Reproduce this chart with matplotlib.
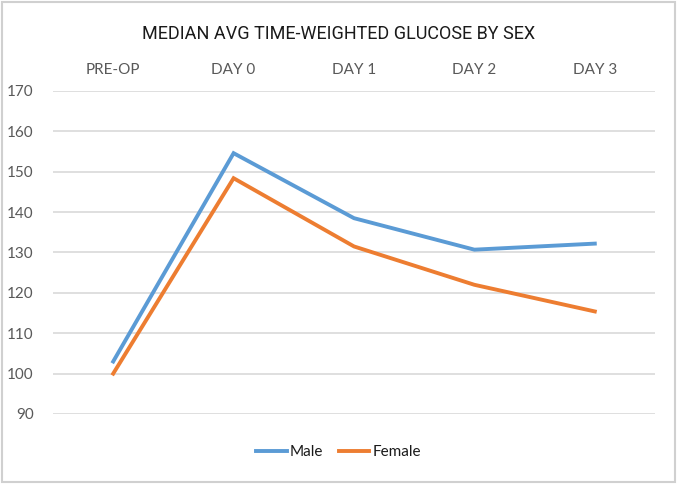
import matplotlib
matplotlib.use("Agg")
import matplotlib.pyplot as plt
from matplotlib.patches import Rectangle

# Data
days = ["PRE-OP", "DAY 0", "DAY 1", "DAY 2", "DAY 3"]
male = [103.0, 154.6, 138.5, 130.7, 132.2]
female = [100.0, 148.4, 131.5, 122.0, 115.4]
yticks = [90, 100, 110, 120, 130, 140, 150, 160, 170]

BLUE = "#5B9BD5"
ORANGE = "#ED7D31"
GREY = "#595959"

plt.rcParams["font.family"] = ["Lato", "DejaVu Sans"]

fig = plt.figure(figsize=(6.77, 4.84), dpi=100)
ax = fig.add_axes([53 / 677, 70 / 484, 602 / 677, 323 / 484])

x = range(len(days))
ax.plot(x, male, color=BLUE, lw=2.8, label="Male", solid_joinstyle="miter")
ax.plot(x, female, color=ORANGE, lw=2.8, label="Female", solid_joinstyle="miter")

ax.set_xlim(-0.5, len(days) - 0.5)
ax.set_ylim(90, 170)
ax.set_yticks(yticks)
ax.set_xticks(list(x))
ax.set_xticklabels(days)
ax.xaxis.tick_top()
ax.tick_params(axis="x", length=0, pad=10, labelsize=11, colors=GREY)
ax.tick_params(axis="y", length=0, pad=14, labelsize=11, colors=GREY)
ax.grid(axis="y", color="#D9D9D9", lw=1.2)
ax.set_axisbelow(True)
for s in ax.spines.values():
    s.set_visible(False)

fig.text(0.5, 1 - 34 / 484, "MEDIAN AVG TIME-WEIGHTED GLUCOSE BY SEX",
         ha="center", va="center", fontsize=13, color="#1a1a1a",
         family=["Roboto", "DejaVu Sans"])

fig.legend(loc="center", bbox_to_anchor=(0.5, 1 - 452 / 484), ncol=2,
           frameon=False, fontsize=11, handlelength=2.0, handletextpad=0.2,
           columnspacing=1.0, labelcolor="#1a1a1a")

# outer border
fig.patches.append(Rectangle((2 / 677, 2 / 484), 673 / 677, 480 / 484,
                             transform=fig.transFigure, fill=False,
                             edgecolor="#D0D0D0", lw=1.5))

fig.savefig("out.png", dpi=100)
